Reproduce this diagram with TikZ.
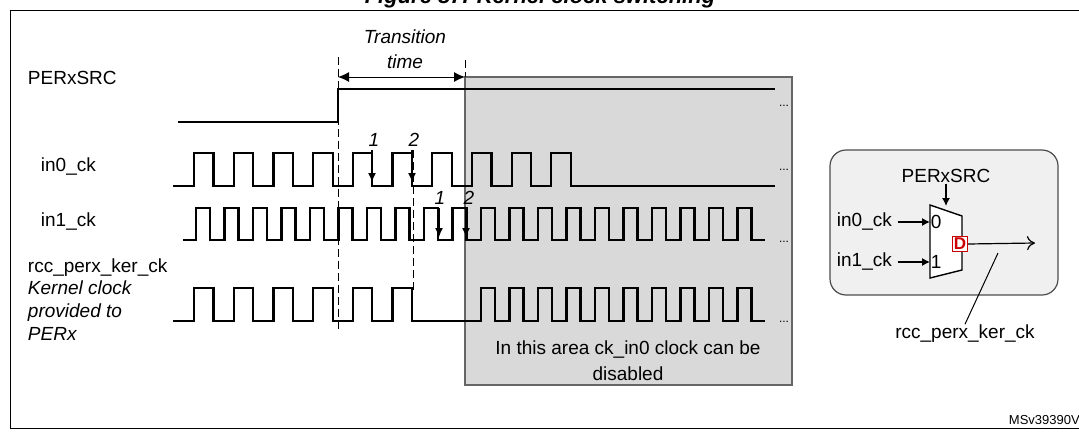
\documentclass[tikz,border=0pt]{standalone}
\usepackage{fontspec}
\setmainfont{Liberation Sans}
\usetikzlibrary{arrows.meta,positioning}

\tikzset{
  sig/.style={line width=2.2},
  edge/.style={line width=0.8, dash pattern=on 8pt off 4pt},
  tick/.style={line width=1.2, -{Latex[length=9pt,width=8pt]}},
  lbl/.style={inner sep=0.75pt, font=\fontsize{19}{22}\selectfont},
  num/.style={inner sep=0.75pt, font=\fontsize{19}{22}\selectfont\itshape},
}

\begin{document}
\begin{tikzpicture}[x=1pt,y=-1pt]
\useasboundingbox (0,0) rectangle (1079,439);

%Frame and title
\draw [line width=1] (1090,10) -- (10,10) -- (10,428) -- (1090,428);
\node (title) [anchor=base, font=\fontsize{22}{24}\selectfont\bfseries\itshape] at (540,4) {Figure 87. Kernel clock switching};

%Shape: Rectangle (area where ck_in0 can be off)
\draw [fill=black!15, draw=black!60, line width=1.2] (465,77) rectangle (792,385);

%Dashed lines
\coordinate (t0) at (338,57);
\coordinate (t1) at (465,60);
\draw [edge] (t0) -- (338,330);
\draw [edge] (413,150) -- (413,290);
\draw [edge] (t1) -- (465,77);

%Transition arrow
\draw [line width=1, {Latex[length=11pt,width=10pt]}-{Latex[length=11pt,width=10pt]}] (338,77) -- (465,77);
\node (trans) [lbl, font=\fontsize{19}{25}\selectfont\itshape, align=center] at (405,49) {Transition\\time};

%PERxSRC
\draw [sig] (178,122) -- (338,122) -- (338,89) -- (775,89);
%in0_ck
\draw [sig] (173,186) foreach \k in {0,...,9}{ -- ({194+39.7*\k},186) -- ++(0,-33) -- ++(19.5,0) -- ++(0,33)} -- (775,186);
%in1_ck
\draw [sig] (183,240) foreach \k in {0,...,19}{ -- ({196+28.5*\k},240) -- ++(0,-32) -- ++(14,0) -- ++(0,32)} -- (765,240);
%rcc_perx_ker_ck
\draw [sig] (173,321) foreach \k in {0,...,5}{ -- ({194+39.7*\k},321) -- ++(0,-33) -- ++(19.5,0) -- ++(0,33)}
  foreach \k in {10,...,19}{ -- ({196+28.5*\k},321) -- ++(0,-33) -- ++(14,0) -- ++(0,33)} -- (765,321);

%Switch points
\node (a1) [num] at (374,140) {1};
\node (a2) [num] at (414,140) {2};
\node (b1) [num] at (440,198) {1};
\node (b2) [num] at (469,198) {2};
\draw [tick] (372,150) -- (372,182);
\draw [tick] (412,150) -- (412,182);
\draw [tick] (439,208) -- (439,237);
\draw [tick] (466,208) -- (466,237);

%Signal names
\node (src) [lbl, anchor=west] at (27,78) {PERxSRC};
\node (in0) [lbl, anchor=west] at (40,167) {in0\_ck};
\node (in1) [lbl, anchor=west] at (40,222) {in1\_ck};
\node (ker) [lbl, anchor=west] at (27,268) {rcc\_perx\_ker\_ck};
\node (kdesc) [lbl, anchor=north west, align=left, font=\fontsize{19}{23}\selectfont\itshape] at (27,280) {Kernel clock\\provided to\\PERx};

%Dots
\foreach \y/\n in {106/d0,170/d1,242/d2,322/d3}
  \node (\n) [lbl, font=\large] at (784,\y) {...};

\node (area) [lbl, align=center, font=\fontsize{19}{26}\selectfont] at (628,361) {In this area ck\_in0 clock can be\\disabled};

%Mux
\draw [fill=black!6, draw=black!70, line width=1.2, rounded corners=16] (830,150) rectangle (1058,295);
\node (msrc) [lbl] at (946,176) {PERxSRC};
\draw [line width=1.4, fill=white] (930,205) -- (962,216) -- (962,270) -- (930,278) -- cycle;
\node (m0) [lbl, anchor=west] at (930,222) {0};
\node (m1) [lbl, anchor=west] at (930,262) {1};
\node (min0) [lbl, anchor=west] at (836,222) {in0\_ck};
\node (min1) [lbl, anchor=west] at (836,262) {in1\_ck};
\draw [line width=1.2, -{Latex[length=8pt,width=8pt]}] (msrc.south) -- (946,206);
\draw [line width=1.2, -{Latex[length=8pt,width=8pt]}] ([xshift=5pt]min0.east) -- (m0.west);
\draw [line width=1.2, -{Latex[length=8pt,width=8pt]}] ([xshift=5pt]min1.east) -- (m1.west);
\node (dreg) [draw=red!80!black, fill=white, line width=1.2, inner sep=0.5pt, minimum size=15pt, text=red!80!black, font=\fontsize{17}{17}\selectfont\bfseries] at (960,244) {D};
\coordinate (mout) at (1035,243);
\draw [line width=1.2, -{To[length=8pt,width=14pt]}] (dreg.east) -- (mout);
\node (mker) [lbl] at (965,334) {rcc\_perx\_ker\_ck};
\draw [line width=1] (998,253) -- (mker.north);

\node (ref) [lbl, anchor=west, font=\fontsize{13}{15}\selectfont] at (1008,420) {MSv39390V1};
\end{tikzpicture}
\end{document}
